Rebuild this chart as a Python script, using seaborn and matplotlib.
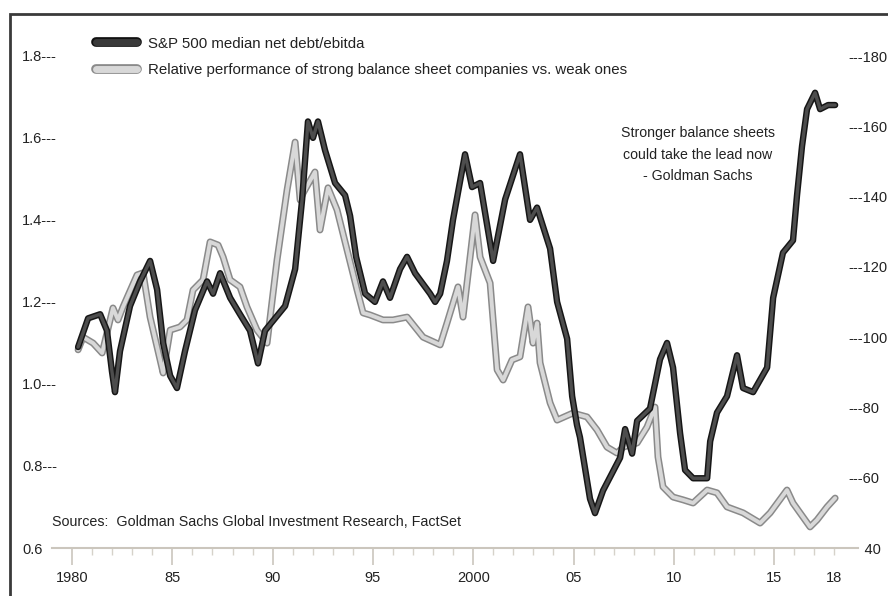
import matplotlib
matplotlib.use("Agg")
import matplotlib.pyplot as plt
import matplotlib.patheffects as pe
from matplotlib.lines import Line2D
from matplotlib.patches import Rectangle
import seaborn as sns

# S&P 500 median net debt/ebitda (left axis)
debt_years = [1980.3, 1980.8, 1981.4, 1981.74, 1981.99, 1982.14, 1982.39, 1982.89, 1983.39, 1983.89,
              1984.24, 1984.54, 1984.89, 1985.23, 1985.63, 1986.13, 1986.73, 1987.03, 1987.38, 1987.88,
              1988.37, 1988.87, 1989.27, 1989.62, 1990.12, 1990.62, 1991.12, 1991.47, 1991.76, 1992.01,
              1992.26, 1992.61, 1993.11, 1993.61, 1993.86, 1994.16, 1994.61, 1995.10, 1995.50, 1995.85,
              1996.35, 1996.70, 1997.10, 1997.85, 1998.10, 1998.35, 1998.69, 1998.99, 1999.59, 1999.94,
              2000.34, 2000.99, 2001.59, 2002.33, 2002.83, 2003.18, 2003.83, 2004.18, 2004.68, 2004.93,
              2005.17, 2005.32, 2005.82, 2006.07, 2006.47, 2007.32, 2007.57, 2007.92, 2008.17, 2008.81,
              2009.31, 2009.66, 2009.96, 2010.31, 2010.56, 2010.96, 2011.66, 2011.81, 2012.15, 2012.65,
              2013.15, 2013.45, 2013.95, 2014.65, 2014.95, 2015.44, 2015.94, 2016.14, 2016.39, 2016.64,
              2017.04, 2017.29, 2017.69, 2018.04]
debt_values = [1.09, 1.16, 1.17, 1.13, 1.03, 0.98, 1.08, 1.19, 1.25, 1.30,
               1.23, 1.10, 1.02, 0.99, 1.08, 1.18, 1.25, 1.22, 1.27, 1.21,
               1.17, 1.13, 1.05, 1.13, 1.16, 1.19, 1.28, 1.45, 1.64, 1.60,
               1.64, 1.57, 1.49, 1.46, 1.41, 1.31, 1.22, 1.20, 1.25, 1.21,
               1.28, 1.31, 1.27, 1.22, 1.20, 1.22, 1.30, 1.40, 1.56, 1.48,
               1.49, 1.30, 1.45, 1.56, 1.40, 1.43, 1.33, 1.20, 1.11, 0.97,
               0.90, 0.87, 0.72, 0.685, 0.74, 0.82, 0.89, 0.83, 0.91, 0.94,
               1.06, 1.10, 1.04, 0.88, 0.79, 0.77, 0.77, 0.86, 0.93, 0.97,
               1.07, 0.99, 0.98, 1.04, 1.21, 1.32, 1.35, 1.46, 1.58, 1.67,
               1.71, 1.67, 1.68, 1.68]

# Relative performance strong vs weak balance sheets (right axis)
perf_years = [1980.30, 1980.55, 1981.05, 1981.50, 1982.04, 1982.29, 1982.54, 1983.24, 1983.54, 1983.89,
              1984.39, 1984.54, 1984.89, 1985.38, 1985.73, 1986.03, 1986.53, 1986.88, 1987.28, 1987.53,
              1987.88, 1988.37, 1988.72, 1989.22, 1989.72, 1990.22, 1990.72, 1991.12, 1991.37, 1991.52,
              1992.11, 1992.36, 1992.76, 1993.21, 1993.71, 1994.21, 1994.51, 1994.86, 1995.50, 1996.00,
              1996.70, 1997.50, 1998.35, 1998.69, 1999.24, 1999.49, 2000.09, 2000.34, 2000.84, 2001.19,
              2001.49, 2001.93, 2002.33, 2002.73, 2002.98, 2003.18, 2003.33, 2003.83, 2004.18, 2004.97,
              2005.67, 2006.17, 2006.67, 2007.17, 2007.47, 2008.17, 2008.66, 2009.06, 2009.21, 2009.46,
              2009.96, 2010.46, 2010.96, 2011.66, 2012.15, 2012.65, 2013.45, 2014.30, 2014.80, 2015.64,
              2015.94, 2016.79, 2017.14, 2017.64, 2018.04]
perf_values = [96.4, 100.0, 98.3, 95.5, 108.3, 104.9, 108.6, 117.7, 118.3, 105.7,
               93.5, 89.8, 102.0, 102.9, 104.9, 113.4, 116.3, 127.1, 126.2, 122.8,
               116.3, 114.3, 108.6, 102.0, 98.3, 122.0, 141.9, 155.5, 139.0, 141.0,
               147.0, 130.5, 142.5, 136.2, 124.8, 113.4, 106.9, 106.3, 104.9, 104.9,
               105.7, 100.0, 97.8, 104.0, 114.3, 105.7, 134.8, 122.8, 115.4, 90.7,
               87.8, 93.5, 94.4, 108.6, 98.3, 104.0, 92.7, 81.3, 76.4, 78.4,
               77.3, 73.6, 68.7, 67.0, 68.7, 69.9, 74.4, 80.1, 65.9, 57.4,
               54.5, 53.7, 52.8, 56.5, 55.7, 51.7, 50.0, 47.1, 50.0, 56.5,
               52.8, 46.0, 48.0, 51.7, 54.2]

left_ticks = [0.6, 0.8, 1.0, 1.2, 1.4, 1.6, 1.8]
left_labels = ['0.6', '0.8---', '1.0---', '1.2---', '1.4---', '1.6---', '1.8---']
right_ticks = [40, 60, 80, 100, 120, 140, 160, 180]
right_labels = ['    40', '---60', '---80', '---100', '---120', '---140', '---160', '---180']
x_major = [1980, 1985, 1990, 1995, 2000, 2005, 2010, 2015]
x_major_labels = ['1980', '85', '90', '95', '2000', '05', '10', '15']

sns.set_theme(style='white')
plt.rcParams['font.family'] = ['Liberation Sans', 'DejaVu Sans']
txt = '#222222'

fig = plt.figure(figsize=(8.88, 5.96), dpi=100)
ax = fig.add_axes([52 / 888, 48 / 596, 806 / 888, 518 / 596])
ax2 = ax.twinx()
ax.set_zorder(ax2.get_zorder() + 1)
ax.patch.set_visible(False)

dark_fx = [pe.Stroke(linewidth=4.6, foreground='#161616'), pe.Normal()]
light_fx = [pe.Stroke(linewidth=5.0, foreground='#8a8a8a'), pe.Normal()]

sns.lineplot(x=perf_years, y=perf_values, ax=ax2, color='#d8d8d8', lw=2.8,
             estimator=None, path_effects=light_fx)
sns.lineplot(x=debt_years, y=debt_values, ax=ax, color='#4d4d4d', lw=2.4,
             estimator=None, path_effects=dark_fx)

ax.set_xlim(1979, 2019.18)
ax.set_ylim(0.6, 1.863)
ax2.set_ylim(40, 187.4)

for s in ['top', 'left', 'right']:
    ax.spines[s].set_visible(False)
for s in ax2.spines.values():
    s.set_visible(False)
ax.spines['bottom'].set_color('#cbc6bd')
ax.spines['bottom'].set_linewidth(1.5)

ax.set_xticks(x_major, labels=x_major_labels)
minor_years = list(range(1980, 2019))
ax.set_xticks(minor_years, labels=['18' if y == 2018 else '' for y in minor_years], minor=True)
ax.tick_params(axis='x', which='major', bottom=True, length=12, width=1.2,
               color='#cbc6bd', pad=4.5, labelsize=10.5, labelcolor=txt)
ax.tick_params(axis='x', which='minor', bottom=True, length=5, width=1.0,
               color='#d6d2ca', pad=11.5, labelsize=10.5, labelcolor=txt)

ax.set_yticks(left_ticks, labels=left_labels)
ax.tick_params(axis='y', length=0, pad=21.6, labelsize=10.5, labelcolor=txt)
for lbl in ax.get_yticklabels():
    lbl.set_ha('left')

ax2.set_yticks(right_ticks, labels=right_labels)
ax2.tick_params(axis='y', length=0, pad=-7.2, labelsize=10.5, labelcolor=txt)
ax.set_xlabel('')
ax.set_ylabel('')
ax2.set_ylabel('')

handles = [
    Line2D([0], [0], color='#3a3a3a', lw=5, solid_capstyle='round',
           path_effects=[pe.Stroke(linewidth=7, foreground='#111111'), pe.Normal()]),
    Line2D([0], [0], color='#d8d8d8', lw=5, solid_capstyle='round',
           path_effects=[pe.Stroke(linewidth=7, foreground='#8a8a8a'), pe.Normal()]),
]
labels = ['S&P 500 median net debt/ebitda',
          'Relative performance of strong balance sheet companies vs. weak ones']
ax.legend(handles, labels, loc='upper left', bbox_to_anchor=(0.055, 0.987), frameon=False,
          fontsize=10.8, handlelength=2.7, handletextpad=0.75, labelspacing=0.82,
          borderpad=0, borderaxespad=0, labelcolor=txt)

ax.text(2011.2, 1.629, 'Stronger balance sheets\ncould take the lead now\n- Goldman Sachs',
        ha='center', va='top', fontsize=10.2, linespacing=1.7, color=txt)
ax.text(0.0, 26 / 518, 'Sources:  Goldman Sachs Global Investment Research, FactSet',
        transform=ax.transAxes, ha='left', va='center', fontsize=10.3, color=txt)

fig.add_artist(Rectangle((10 / 888, -0.05), 1.0, 1 - 14 / 596 + 0.05, transform=fig.transFigure,
                         fill=False, edgecolor='#3a3a3a', lw=2))

fig.savefig('out.png', dpi=100)
